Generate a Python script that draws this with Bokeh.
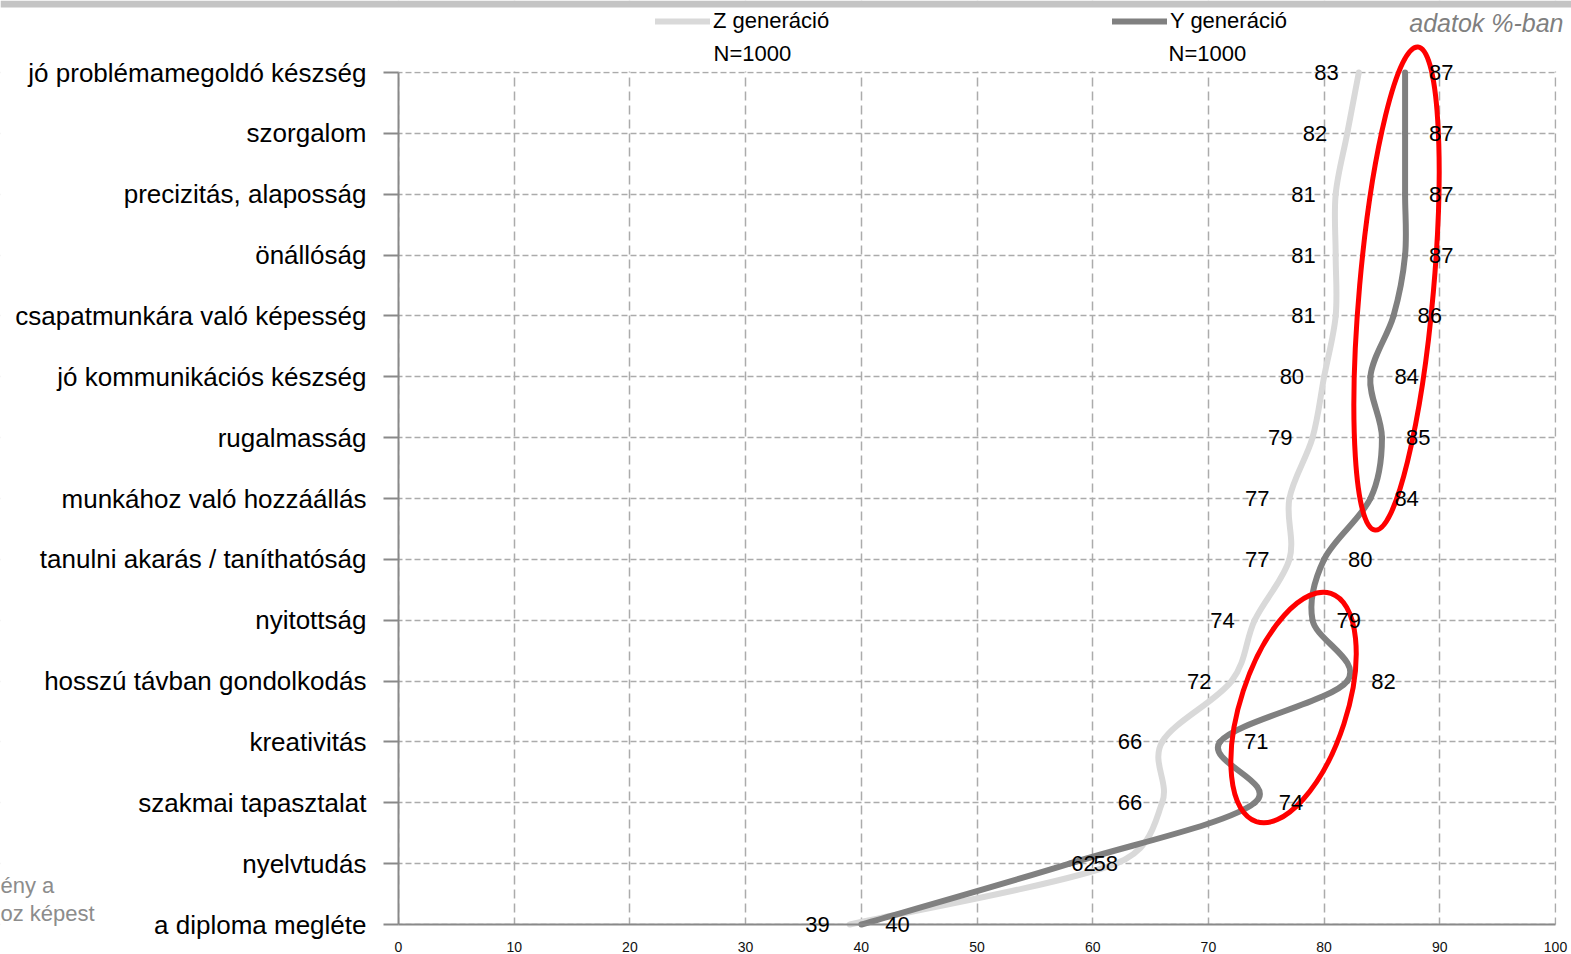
import math
import numpy as np
from bokeh.plotting import figure
from bokeh.models import (Range1d, FixedTicker, ColumnDataSource, LabelSet, Label,
                          Legend, LegendItem, BoxAnnotation, GlobalInlineStyleSheet)
from bokeh.core.properties import value
from bokeh.embed import file_html
from bokeh.resources import INLINE

# ---------------- data ----------------
categories = [
    "jó problémamegoldó készség",
    "szorgalom",
    "precizitás, alaposság",
    "önállóság",
    "csapatmunkára való képesség",
    "jó kommunikációs készség",
    "rugalmasság",
    "munkához való hozzáállás",
    "tanulni akarás / taníthatóság",
    "nyitottság",
    "hosszú távban gondolkodás",
    "kreativitás",
    "szakmai tapasztalat",
    "nyelvtudás",
    "a diploma megléte",
]
z_values = [83, 82, 81, 81, 81, 80, 79, 77, 77, 74, 72, 66, 66, 62, 39]
y_values = [87, 87, 87, 87, 86, 84, 85, 84, 80, 79, 82, 71, 74, 58, 40]
z_name = "Z generáció"
y_name = "Y generáció"
n_label = "N=1000"
unit_note = "adatok %-ban"
side_note = ["ény a", "oz képest"]
x_ticks = [0, 10, 20, 30, 40, 50, 60, 70, 80, 90, 100]

# red highlight ellipses (annotation): centre in data units, size in px, angle in degrees
ell_x = [86.26, 77.36]
ell_y = [10.45, 3.566]
ell_w = [485, 240]
ell_h = [74, 106]
ell_angle = [84.95, 71.9]

# ---------------- layout ----------------
W, H = 1571, 954
X0_PX, X100_PX = 398, 1555      # canvas x of value 0 and 100
YTOP_PX, YBOT_PX = 72, 924      # canvas y of first and last category
FONT = "Liberation Sans"

n = len(categories)
ypos = list(range(n - 1, -1, -1))  # top category -> highest position
sx = (X100_PX - X0_PX) / 100.0
sy = (YBOT_PX - YTOP_PX) / (n - 1)
x_lo, x_hi = -X0_PX / sx, 100 + (W - X100_PX) / sx
y_lo, y_hi = -(H - YBOT_PX) / sy, (n - 1) + YTOP_PX / sy

p = figure(width=W, height=H, output_backend="svg", toolbar_location=None,
           x_range=Range1d(x_lo, x_hi), y_range=Range1d(y_lo, y_hi),
           min_border_left=0, min_border_right=0, min_border_top=0, min_border_bottom=0)
p.title.visible = False
p.stylesheets = [GlobalInlineStyleSheet(css="html, body {margin:0 !important; padding:0; overflow:hidden;}")]
p.outline_line_color = None
p.background_fill_color = "white"
p.border_fill_color = "white"

# axes (fixed at value 0 / last category, so they take no panel space)
xa = p.xaxis[0]
xa.fixed_location = 0
xa.bounds = (0, 100)
xa.ticker = FixedTicker(ticks=x_ticks)
xa.major_tick_in = 0
xa.major_tick_out = 0
xa.minor_tick_line_color = None
xa.axis_line_color = "#898989"
xa.axis_line_width = 2
xa.major_label_text_font = FONT
xa.major_label_text_font_size = "14px"
xa.major_label_text_color = "#111111"
xa.major_label_standoff = 17

ya = p.yaxis[0]
ya.fixed_location = 0
ya.bounds = (0, n - 1)
ya.ticker = FixedTicker(ticks=ypos)
ya.major_label_overrides = {yp: c for yp, c in zip(ypos, categories)}
ya.major_tick_in = 0
ya.major_tick_out = 15
ya.major_tick_line_color = "#898989"
ya.major_tick_line_width = 2
ya.minor_tick_line_color = None
ya.axis_line_color = "#898989"
ya.axis_line_width = 2
ya.major_label_text_font = FONT
ya.major_label_text_font_size = "26px"
ya.major_label_text_color = "#000000"
ya.major_label_standoff = 17

for g, dash in ((p.xgrid[0], "9 5"), (p.ygrid[0], "6 3")):
    g.grid_line_color = "#ababab"
    g.grid_line_width = 1.5
    g.grid_line_dash = dash
    g.level = "image"
p.xgrid[0].bounds = (-50, 200)
p.ygrid[0].bounds = (-5, 20)

# white masks so that the grid only covers the plot area
pad_x, pad_y = 10, 2
masks = [
    dict(left=x_lo - pad_x, right=0, bottom=y_lo - pad_y, top=y_hi + pad_y),
    dict(left=100 + 1 / sx, right=x_hi + pad_x, bottom=y_lo - pad_y, top=y_hi + pad_y),
    dict(left=x_lo - pad_x, right=x_hi + pad_x, bottom=(n - 1) + 1 / sy, top=y_hi + pad_y),
    dict(left=x_lo - pad_x, right=x_hi + pad_x, bottom=y_lo - pad_y, top=0),
]
for kw in masks:
    p.add_layout(BoxAnnotation(fill_color="white", fill_alpha=1, line_alpha=0,
                               level="underlay", **kw))

# ---------------- smoothed lines (Excel-style bezier, computed in pixel space) ----------------
def excel_bezier(xs, ys):
    P = np.column_stack([np.asarray(xs, float) * sx, np.asarray(ys, float) * sy])
    m = len(P)
    out = {k: [] for k in ("x0", "y0", "x1", "y1", "cx0", "cy0", "cx1", "cy1")}
    f = 1.0 / 6.0
    for i in range(m - 1):
        p0 = P[i - 1] if i > 0 else P[i]
        p1, p2 = P[i], P[i + 1]
        p3 = P[i + 2] if i + 2 < m else P[i + 1]
        d12 = np.hypot(*(p2 - p1))
        d02 = np.hypot(*(p2 - p0))
        d13 = np.hypot(*(p3 - p1))
        f1 = f if (d02 * f < d12 / 2 or d02 == 0) else d12 / (2 * d02)
        f2 = f if (d13 * f < d12 / 2 or d13 == 0) else d12 / (2 * d13)
        c1 = p1 + f1 * (p2 - p0)
        c2 = p2 - f2 * (p3 - p1)
        out["x0"].append(p1[0] / sx); out["y0"].append(p1[1] / sy)
        out["x1"].append(p2[0] / sx); out["y1"].append(p2[1] / sy)
        out["cx0"].append(c1[0] / sx); out["cy0"].append(c1[1] / sy)
        out["cx1"].append(c2[0] / sx); out["cy1"].append(c2[1] / sy)
    return ColumnDataSource(out)


z_src = excel_bezier(z_values, ypos)
y_src = excel_bezier(y_values, ypos)

rz = p.bezier(x0="x0", y0="y0", x1="x1", y1="y1", cx0="cx0", cy0="cy0", cx1="cx1", cy1="cy1",
              source=z_src, line_color="#d9d9d9", line_width=6, line_cap="round")
ry = p.bezier(x0="x0", y0="y0", x1="x1", y1="y1", cx0="cx0", cy0="cy0", cx1="cx1", cy1="cy1",
              source=y_src, line_color="#808080", line_width=6, line_cap="round")

# ---------------- data labels ----------------
lab_src = ColumnDataSource(dict(
    pos=ypos, z=z_values, yv=y_values,
    zt=[str(v) for v in z_values], yt=[str(v) for v in y_values]))
p.add_layout(LabelSet(x="z", y="pos", text="zt", source=lab_src, x_offset=-20,
                      text_align="right", text_baseline="middle",
                      text_font=value(FONT), text_font_size="22px", text_color="#000000"))
p.add_layout(LabelSet(x="yv", y="pos", text="yt", source=lab_src, x_offset=24,
                      text_align="left", text_baseline="middle",
                      text_font=value(FONT), text_font_size="22px", text_color="#000000"))

# ---------------- red ellipses ----------------
p.ellipse(x=ell_x, y=ell_y, width=ell_w, height=ell_h,
          angle=[math.radians(a) for a in ell_angle],
          width_units="screen", height_units="screen",
          fill_alpha=0, line_color="#ff0000", line_width=5)

# ---------------- legend & notes (screen units, y measured upward from the bottom) ----------------
legend = Legend(items=[LegendItem(label=z_name, renderers=[rz]),
                       LegendItem(label=y_name, renderers=[ry])],
                orientation="horizontal", location=(655, H - 34),
                glyph_width=55, glyph_height=20, label_standoff=3, label_width=399,
                spacing=0, padding=0, margin=0,
                border_line_alpha=0, background_fill_alpha=0,
                label_text_font=FONT, label_text_font_size="22px", label_text_color="#000000")
p.add_layout(legend)

for xx in (713, 1168):
    p.add_layout(Label(x=xx, y=H - 53, x_units="screen", y_units="screen",
                       text=n_label, text_baseline="middle", text_font=FONT,
                       text_font_size="22px", text_color="#000000"))
p.add_layout(Label(x=1563, y=H - 22, x_units="screen", y_units="screen",
                   text=unit_note, text_align="right", text_baseline="middle",
                   text_font=FONT, text_font_style="italic",
                   text_font_size="25px", text_color="#7f7f7f"))

for txt, yy in zip(side_note, (885, 913)):
    p.add_layout(Label(x=0, y=H - yy, x_units="screen", y_units="screen",
                       text=txt, text_baseline="middle", text_font=FONT,
                       text_font_size="22px", text_color="#8c8c8c"))

# top grey bar
p.add_layout(BoxAnnotation(bottom=H - 7, bottom_units="screen",
                           fill_color="#c4c4c4", fill_alpha=1, line_alpha=0))

open("out.html", "w").write(file_html(p, INLINE))
